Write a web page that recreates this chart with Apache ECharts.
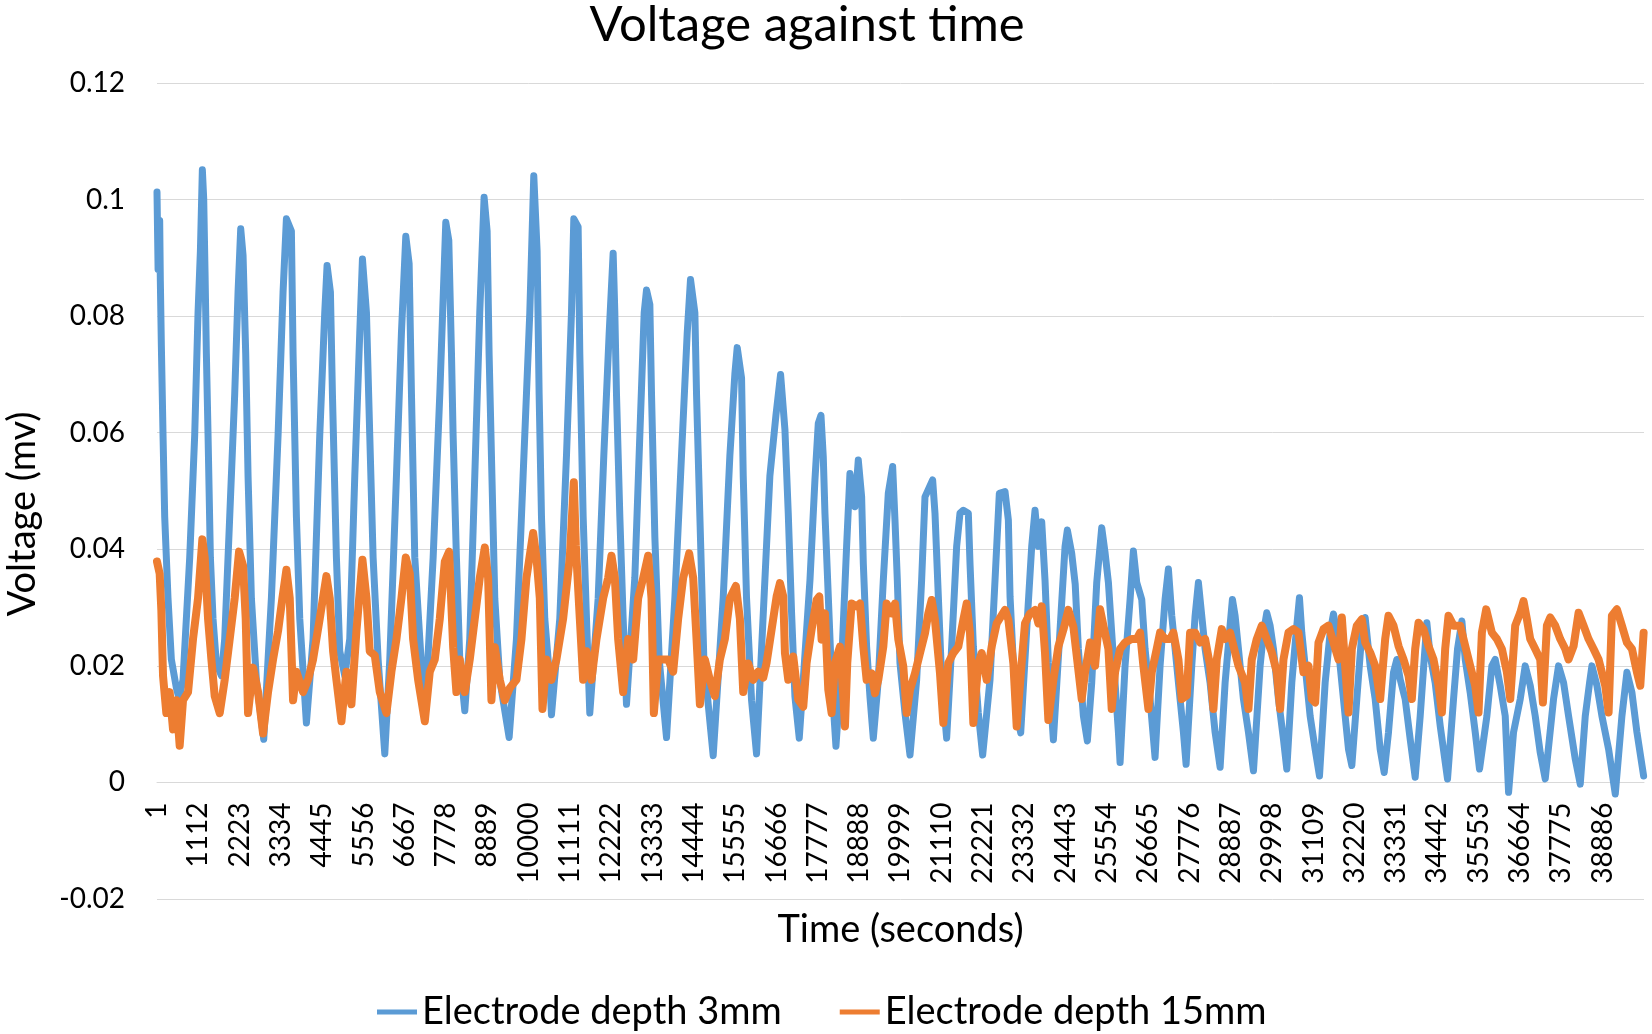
<!DOCTYPE html>
<html>
<head>
<meta charset="utf-8">
<script src="https://cdn.jsdelivr.net/npm/echarts@6/dist/echarts.min.js"></script>
<style>
html,body{margin:0;padding:0;background:#fff;}
#chart{width:1652px;height:1034px;}
</style>
</head>
<body>
<div id="chart"></div>
<script>
// x tick labels (time in seconds)
const timeTicks = [1,1112,2223,3334,4445,5556,6667,7778,8889,10000,11111,12222,13333,14444,15555,16666,17777,18888,19999,21110,22221,23332,24443,25554,26665,27776,28887,29998,31109,32220,33331,34442,35553,36664,37775,38886];

// Electrode depth 3mm (blue) — time (s)
const blueTime = [
1,30,73,91,118,163,208,297,387,522,593,
701,881,1015,1105,1168,1221,1257,1293,1329,1374,1437,1508,1598,1733,
1822,1957,2091,2181,2253,2316,2387,2450,2540,2675,2872,
3078,3258,3392,3482,3616,3661,3751,3841,4020,
4199,4379,4513,4576,4666,4720,4827,4917,5052,
5186,5321,5455,5527,5635,5724,5814,5949,6128,
6263,6442,6576,6693,6783,6846,6935,7070,7204,
7429,7608,7769,7850,7922,7966,8055,8145,8280,
8414,8549,8683,8800,8881,8934,8997,9087,9222,9473,
9670,9849,10029,10136,10226,10280,10343,10432,10567,10612,
10836,11016,11150,11213,11329,11374,11464,11554,11643,
11868,12020,12164,12271,12316,12361,12451,12540,12630,
12854,12989,13106,13169,13258,13303,13393,13509,13707,
13931,14110,14263,14352,14469,14514,14604,14711,14962,
15231,15411,15545,15608,15725,15770,15859,15994,16128,
16487,16650,16775,16892,16981,17071,17161,17277,
17385,17565,17699,17789,17861,17923,17968,18058,18148,18264,
18417,18551,18641,18775,18865,18955,19000,19089,19179,19269,
19403,19538,19672,19789,19852,19915,19986,20121,20256,
20435,20569,20659,20865,20928,21018,21108,21242,
21377,21511,21601,21691,21825,21870,21960,22094,22211,
22408,22543,22659,22812,22902,22947,23036,23126,23234,
23395,23530,23619,23709,23799,23888,23978,24113,
24292,24427,24489,24606,24700,24785,24920,25027,
25144,25279,25413,25503,25593,25682,25772,25862,25907,
26041,26176,26265,26355,26490,26579,26714,26848,
26983,27117,27207,27297,27387,27521,27611,27683,
27835,27925,28014,28104,28194,28328,28463,28598,
28732,28849,28929,29001,29091,29225,29360,29495,
29674,29764,29853,29943,30033,30167,30302,30392,
30526,30643,30732,30795,30885,31019,31154,31271,
31423,31558,31647,31737,31827,31961,32051,32141,
32275,32410,32499,32634,32769,32903,33011,
33127,33262,33352,33441,33576,33711,33845,
33980,34087,34159,34249,34383,34518,34715,
34877,34984,35101,35191,35325,35460,35576,
35774,35908,35998,36132,36267,36357,
36491,36671,36805,36940,37074,37209,37343,
37567,37702,37837,37971,38151,38285,
38420,38536,38599,38734,38868,39048,39227,
39406,39541,39676,39810,39990
];
// Electrode depth 3mm (blue) — voltage (mv)
const blueVoltage = [
0.1013,0.0880,0.0964,0.0860,0.0750,0.0596,0.0456,0.0316,0.0211,0.0162,0.0144,
0.0176,0.0386,0.0596,0.0806,0.0911,0.1051,0.1002,0.0876,0.0736,0.0596,0.0386,0.0281,0.0204,0.0183,
0.0246,0.0456,0.0666,0.0841,0.0950,0.0904,0.0736,0.0526,0.0316,0.0176,0.0074,
0.0316,0.0596,0.0841,0.0967,0.0946,0.0736,0.0456,0.0281,0.0102,
0.0246,0.0596,0.0806,0.0887,0.0841,0.0666,0.0386,0.0225,0.0183,
0.0246,0.0526,0.0771,0.0898,0.0806,0.0596,0.0386,0.0211,0.0049,
0.0211,0.0526,0.0771,0.0937,0.0890,0.0666,0.0386,0.0246,0.0109,
0.0386,0.0666,0.0961,0.0930,0.0736,0.0596,0.0386,0.0211,0.0123,
0.0246,0.0526,0.0806,0.1004,0.0946,0.0736,0.0561,0.0316,0.0176,0.0077,
0.0246,0.0526,0.0806,0.1041,0.0911,0.0666,0.0456,0.0281,0.0176,0.0116,
0.0281,0.0561,0.0806,0.0967,0.0953,0.0736,0.0456,0.0281,0.0119,
0.0316,0.0561,0.0771,0.0908,0.0806,0.0666,0.0456,0.0281,0.0134,
0.0351,0.0596,0.0806,0.0845,0.0820,0.0666,0.0421,0.0211,0.0077,
0.0316,0.0561,0.0771,0.0863,0.0806,0.0666,0.0456,0.0211,0.0046,
0.0316,0.0561,0.0701,0.0746,0.0694,0.0526,0.0316,0.0141,0.0049,
0.0526,0.0630,0.0700,0.0605,0.0462,0.0290,0.0147,0.0076,
0.0176,0.0347,0.0519,0.0616,0.0630,0.0559,0.0462,0.0319,0.0176,0.0062,
0.0205,0.0405,0.0530,0.0473,0.0553,0.0490,0.0376,0.0233,0.0147,0.0076,
0.0176,0.0347,0.0496,0.0542,0.0450,0.0347,0.0205,0.0119,0.0047,
0.0176,0.0347,0.0490,0.0519,0.0462,0.0319,0.0176,0.0076,
0.0233,0.0405,0.0462,0.0467,0.0462,0.0376,0.0233,0.0119,0.0047,
0.0176,0.0347,0.0496,0.0499,0.0450,0.0319,0.0205,0.0119,0.0085,
0.0262,0.0405,0.0467,0.0405,0.0447,0.0347,0.0205,0.0073,
0.0262,0.0405,0.0433,0.0393,0.0340,0.0229,0.0114,0.0071,
0.0171,0.0343,0.0437,0.0394,0.0343,0.0257,0.0171,0.0086,0.0034,
0.0200,0.0314,0.0397,0.0343,0.0314,0.0229,0.0143,0.0043,
0.0200,0.0314,0.0366,0.0286,0.0229,0.0143,0.0086,0.0031,
0.0200,0.0286,0.0343,0.0286,0.0229,0.0171,0.0086,0.0026,
0.0171,0.0257,0.0314,0.0286,0.0229,0.0143,0.0086,0.0020,
0.0200,0.0257,0.0291,0.0269,0.0229,0.0143,0.0074,0.0023,
0.0171,0.0257,0.0317,0.0257,0.0200,0.0114,0.0057,0.0011,
0.0171,0.0257,0.0289,0.0257,0.0200,0.0114,0.0057,0.0029,
0.0143,0.0257,0.0283,0.0200,0.0143,0.0057,0.0017,
0.0086,0.0189,0.0211,0.0177,0.0143,0.0074,0.0009,
0.0114,0.0211,0.0274,0.0217,0.0171,0.0097,0.0006,
0.0143,0.0229,0.0277,0.0211,0.0154,0.0086,0.0023,
0.0114,0.0200,0.0211,0.0166,0.0114,-0.0017,
0.0086,0.0143,0.0200,0.0166,0.0114,0.0051,0.0006,
0.0143,0.0200,0.0171,0.0114,0.0040,-0.0003,
0.0114,0.0171,0.0200,0.0166,0.0114,0.0057,-0.0020,
0.0114,0.0189,0.0154,0.0086,0.0011
];

// Electrode depth 15mm (orange) — time (s)
const orangeTime = [
1,73,118,163,252,342,432,522,611,701,836,970,1105,1221,1284,1374,1464,1553,1688,
1822,1957,2091,2208,2316,2387,2450,2585,2719,2854,2988,3123,3258,3374,3482,3572,3661,3751,3930,
4065,4199,4379,4558,4648,4738,4827,4962,5096,5231,5366,5527,5635,5724,5859,5993,6173,
6307,6442,6576,6693,6801,6890,7025,7204,7339,7473,7608,7743,7859,7967,
8055,8145,8280,8414,8549,8683,8818,8908,8997,9087,9222,9356,9491,
9670,9805,9939,10119,10208,10298,10370,10477,10612,10746,10926,11105,11213,11267,11374,11464,11554,11688,
11823,12002,12137,12226,12316,12406,12540,12675,12810,12944,13079,13213,13303,13366,13482,13617,13751,13886,
14020,14155,14316,14424,14514,14604,14738,14873,15007,15142,15276,15411,15572,15680,15770,15904,16039,16173,
16309,16398,16533,16668,16757,16847,16892,16981,17116,17251,17385,17475,17609,17744,17816,17878,17968,18058,18148,
18237,18372,18462,18506,18569,18686,18820,18910,19000,19089,19224,19314,19403,19538,19628,19762,19852,19942,20076,20166,
20256,20390,20525,20659,20749,20839,20928,21063,21153,21287,21422,21556,21691,21780,21870,21960,22094,22184,22319,
22453,22588,22812,22902,23036,23126,23260,23350,23485,23619,23709,23799,23888,23978,24113,24247,24382,24516,24651,24785,
24875,24965,25099,25234,25368,25458,25593,25682,25772,25907,26041,26220,26355,26445,26534,26669,26759,26893,
26983,27117,27252,27342,27476,27566,27701,27790,27925,28059,28194,28328,28418,28508,28642,28732,28867,
29001,29091,29270,29360,29450,29584,29719,29853,29988,30122,30212,30302,30436,30571,30705,30840,30975,
31064,31154,31244,31378,31513,31647,31782,31872,31961,32051,32141,32275,32410,32500,32634,32769,32903,
33038,33127,33262,33397,33531,33666,33755,33845,33935,34069,34204,34338,34473,34563,34652,34742,34877,
35056,35191,35325,35460,35549,35639,35756,35908,36043,36177,36312,36402,36536,36671,36760,36850,36940,
37074,37209,37281,37388,37478,37612,37747,37882,37971,38106,38240,38375,38509,38644,38779,38958,39048,
39137,39272,39406,39541,39676,39810,39900,39990
];
// Electrode depth 15mm (orange) — voltage (mv)
const orangeVoltage = [
0.0379,0.0358,0.0295,0.0183,0.0119,0.0155,0.0091,0.0141,0.0063,0.0141,0.0155,0.0246,0.0316,0.0417,0.0386,0.0281,0.0211,0.0148,0.0119,
0.0176,0.0246,0.0316,0.0396,0.0372,0.0281,0.0119,0.0197,0.0155,0.0084,0.0155,0.0211,0.0260,0.0316,0.0365,0.0316,0.0141,0.0190,0.0155,
0.0176,0.0211,0.0281,0.0354,0.0316,0.0225,0.0176,0.0105,0.0190,0.0134,0.0260,0.0382,0.0316,0.0225,0.0218,0.0155,0.0119,
0.0190,0.0246,0.0316,0.0386,0.0358,0.0246,0.0176,0.0105,0.0190,0.0211,0.0281,0.0379,0.0396,0.0232,
0.0155,0.0211,0.0155,0.0211,0.0281,0.0351,0.0403,0.0351,0.0141,0.0232,0.0176,0.0141,0.0162,
0.0176,0.0246,0.0351,0.0428,0.0386,0.0316,0.0126,0.0211,0.0176,0.0211,0.0281,0.0386,0.0515,0.0407,0.0281,0.0176,0.0225,0.0176,
0.0246,0.0316,0.0351,0.0389,0.0351,0.0246,0.0155,0.0246,0.0211,0.0316,0.0351,0.0389,0.0316,0.0119,0.0211,0.0211,0.0211,0.0190,
0.0281,0.0351,0.0393,0.0351,0.0246,0.0134,0.0211,0.0176,0.0148,0.0211,0.0246,0.0316,0.0337,0.0281,0.0155,0.0204,0.0176,0.0190,
0.0180,0.0205,0.0262,0.0319,0.0342,0.0319,0.0222,0.0176,0.0216,0.0142,0.0130,0.0205,0.0262,0.0313,0.0319,0.0245,0.0290,0.0159,0.0119,
0.0205,0.0233,0.0147,0.0096,0.0205,0.0307,0.0302,0.0307,0.0233,0.0176,0.0187,0.0153,0.0176,0.0233,0.0307,0.0290,0.0307,0.0245,0.0199,0.0119,
0.0159,0.0187,0.0222,0.0256,0.0290,0.0313,0.0279,0.0187,0.0102,0.0205,0.0222,0.0233,0.0279,0.0307,0.0256,0.0102,0.0205,0.0222,0.0176,
0.0233,0.0273,0.0296,0.0279,0.0205,0.0096,0.0205,0.0273,0.0290,0.0296,0.0273,0.0302,0.0222,0.0107,0.0176,0.0233,0.0262,0.0296,0.0267,0.0193,
0.0143,0.0189,0.0240,0.0200,0.0297,0.0269,0.0229,0.0126,0.0189,0.0229,0.0240,0.0246,0.0246,0.0257,0.0200,0.0126,0.0189,0.0229,
0.0257,0.0246,0.0246,0.0257,0.0211,0.0143,0.0149,0.0257,0.0257,0.0240,0.0246,0.0200,0.0126,0.0211,0.0263,0.0246,0.0257,
0.0223,0.0200,0.0171,0.0126,0.0211,0.0246,0.0269,0.0246,0.0223,0.0189,0.0126,0.0211,0.0257,0.0263,0.0257,0.0189,0.0200,
0.0143,0.0137,0.0240,0.0263,0.0269,0.0240,0.0211,0.0283,0.0200,0.0120,0.0229,0.0269,0.0280,0.0240,0.0223,0.0200,0.0143,
0.0246,0.0286,0.0269,0.0234,0.0211,0.0183,0.0143,0.0229,0.0274,0.0263,0.0234,0.0211,0.0166,0.0120,0.0229,0.0286,0.0269,
0.0269,0.0234,0.0200,0.0166,0.0120,0.0257,0.0297,0.0257,0.0246,0.0229,0.0189,0.0143,0.0269,0.0291,0.0311,0.0280,0.0246,
0.0229,0.0211,0.0137,0.0269,0.0283,0.0269,0.0246,0.0229,0.0211,0.0234,0.0291,0.0269,0.0246,0.0229,0.0211,0.0166,0.0120,
0.0286,0.0297,0.0269,0.0240,0.0229,0.0189,0.0166,0.0257
];

const seriesNames = ['Electrode depth 3mm', 'Electrode depth 15mm'];

function pairs(ts, vs) {
  const out = [];
  const n = Math.min(ts.length, vs.length);
  for (let i = 0; i < n; i++) out.push([ts[i], vs[i]]);
  return out;
}

const FONT = 'Lato';
const Y_MIN = -0.02, Y_MAX = 0.12;
const GRID_TOP = 83, GRID_BOTTOM = 135, H = 1034;
// x axis crosses the value axis at 0 (as in the original); place it there
const zeroOffset = -((0 - Y_MIN) / (Y_MAX - Y_MIN)) * (H - GRID_TOP - GRID_BOTTOM);

const chart = echarts.init(document.getElementById('chart'), null, {renderer: 'canvas'});
chart.setOption({
  animation: false,
  backgroundColor: '#ffffff',
  title: {
    text: 'Voltage against time',
    left: 807,
    top: 1,
    padding: 0,
    textAlign: 'center',
    textStyle: {fontFamily: FONT, fontSize: 49, fontWeight: 'normal', color: '#000'}
  },
  legend: {
    data: seriesNames,
    left: 372,
    top: 988,
    icon: 'rect',
    itemWidth: 40,
    itemHeight: 5,
    itemGap: 58,
    textStyle: {fontFamily: FONT, fontSize: 38, color: '#000'}
  },
  grid: {
    left: 157,
    right: 8,
    top: GRID_TOP,
    bottom: GRID_BOTTOM,
    containLabel: false,
    outerBoundsMode: 'none'
  },
  xAxis: {
    type: 'value',
    min: 1,
    max: 40000,
    offset: zeroOffset,
    name: 'Time (seconds)',
    nameLocation: 'middle',
    nameGap: 128,
    nameTextStyle: {fontFamily: FONT, fontSize: 38, color: '#000'},
    axisLine: {show: true, onZero: false, lineStyle: {color: '#d9d9d9', width: 1}},
    axisTick: {show: false},
    splitLine: {show: false},
    axisLabel: {
      customValues: timeTicks,
      formatter: function (v) { return String(v); },
      rotate: 90,
      margin: 20,
      fontFamily: FONT,
      fontSize: 28,
      color: '#000'
    }
  },
  yAxis: {
    type: 'value',
    min: Y_MIN,
    max: Y_MAX,
    interval: 0.02,
    name: 'Voltage (mv)',
    nameLocation: 'middle',
    nameRotate: 90,
    nameGap: 115,
    nameTextStyle: {fontFamily: FONT, fontSize: 38, color: '#000', padding: [0, 46, 0, 0]},
    axisLine: {show: false},
    axisTick: {show: false},
    splitLine: {show: true, lineStyle: {color: '#d9d9d9', width: 1}},
    axisLabel: {margin: 32, fontFamily: FONT, fontSize: 28, color: '#000'}
  },
  series: [
    {
      name: seriesNames[0],
      type: 'line',
      data: pairs(blueTime, blueVoltage),
      symbol: 'none',
      lineStyle: {color: '#5B9BD5', width: 7, join: 'round', cap: 'round'},
      itemStyle: {color: '#5B9BD5'}
    },
    {
      name: seriesNames[1],
      type: 'line',
      data: pairs(orangeTime, orangeVoltage),
      symbol: 'none',
      lineStyle: {color: '#ED7D31', width: 8, join: 'round', cap: 'round'},
      itemStyle: {color: '#ED7D31'}
    }
  ]
});
</script>
</body>
</html>
